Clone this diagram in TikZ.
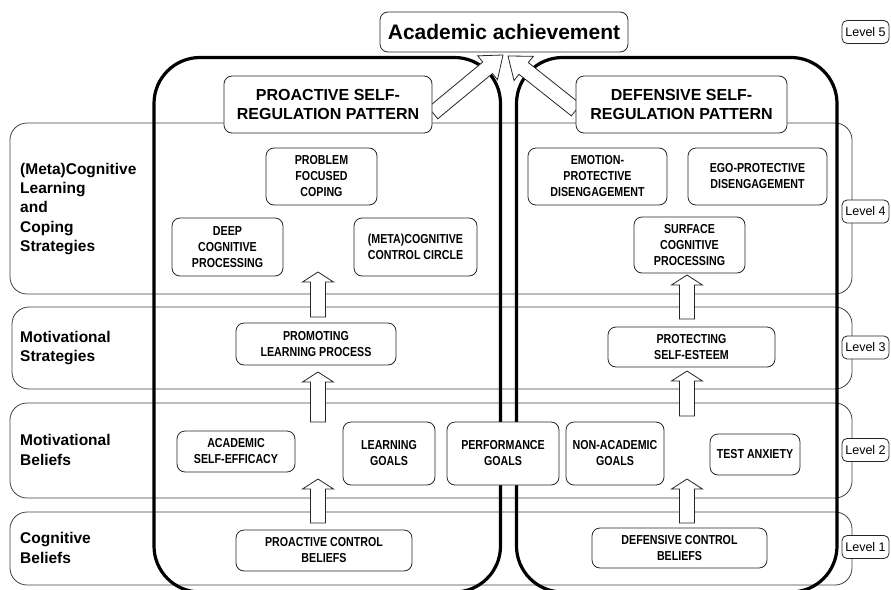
\documentclass[tikz,border=0pt]{standalone}
\usepackage{fontspec}
\setmainfont{Liberation Sans}
\newfontfamily\boxfont[FakeStretch=0.82]{Liberation Sans}
\usetikzlibrary{calc}

\tikzset{
  band/.style={draw=black!75, line width=0.8pt, rounded corners=17pt},
  frame/.style={draw, line width=3.2pt, rounded corners=46pt},
  wh/.style 2 args={minimum width=#1pt, minimum height=#2pt},
  itembox/.style={draw=black!85, fill=white, line width=0.8pt, rounded corners=8pt,
    align=center, inner sep=0pt, font=\boxfont\bfseries\fontsize{13}{16}\selectfont},
  headbox/.style={itembox, font=\bfseries\fontsize{16}{18.5}\selectfont},
  lvl/.style={draw=black!85, fill=white, line width=0.8pt, rounded corners=5pt,
    wh={47}{23}, inner sep=0pt, font=\fontsize{12.5}{15}\selectfont},
  rowname/.style={anchor=west, align=left, inner sep=0pt,
    font=\bfseries\fontsize{15.5}{19.2}\selectfont},
  hollow/.style={draw=black!85, fill=white, line width=0.8pt, line join=miter}
}

% #1 head length, #2 tail, #3 tip
\newcommand\hollowarrow[3][10pt]{%
  \coordinate (hb) at ($(#3)!#1!(#2)$);
  \draw[hollow] ($(#2)!7.5pt!90:(#3)$) -- ($(hb)!7.5pt!90:(#3)$) -- ($(hb)!15.5pt!90:(#3)$)
    -- (#3) -- ($(hb)!15.5pt!-90:(#3)$) -- ($(hb)!7.5pt!-90:(#3)$) -- ($(#2)!7.5pt!-90:(#3)$) -- cycle;}

\begin{document}
\begin{tikzpicture}[x=1pt,y=-1pt]
\useasboundingbox (0,0) rectangle (891,589);

\draw[band] (10,123) rectangle (852,294);
\draw[band] (12,307) rectangle (852,389);
\draw[band] (10,403) rectangle (852,498);
\draw[band] (10,512) rectangle (852,585);

\node[rowname] (r4) at (20,209) {(Meta)Cognitive\\Learning\\and\\Coping\\Strategies};
\node[rowname] (r3) at (20,348) {Motivational\\Strategies};
\node[rowname] (r2) at (20,450) {Motivational\\Beliefs};
\node[rowname] (r1) at (20,548) {Cognitive\\Beliefs};

\draw[frame] (154,57.5) rectangle (500.5,592);
\draw[frame] (516.5,57.5) rectangle (837,592);

\coordinate (pt) at (433,113);
\coordinate (ph) at (503,55);
\coordinate (dt) at (576,110);
\coordinate (dh) at (508,56);
\hollowarrow[20pt]{pt}{ph}
\hollowarrow[20pt]{dt}{dh}

\coordinate (l1) at (318,523);
\coordinate (l2) at (318,479);
\coordinate (l3) at (318,422);
\coordinate (l4) at (318,372);
\coordinate (l5) at (318,317);
\coordinate (l6) at (318,272);
\coordinate (r1a) at (687,523);
\coordinate (r1b) at (687,479);
\coordinate (r2a) at (687,416);
\coordinate (r2b) at (687,371);
\coordinate (r3a) at (687,319);
\coordinate (r3b) at (687,275);
\hollowarrow{l1}{l2}
\hollowarrow{l3}{l4}
\hollowarrow{l5}{l6}
\hollowarrow{r1a}{r1b}
\hollowarrow{r2a}{r2b}
\hollowarrow{r3a}{r3b}

\node[itembox, wh={248}{40}, font=\bfseries\fontsize{21}{25}\selectfont] (achv) at (504,32) {Academic achievement};
\node[headbox, wh={208}{57}] (pro) at (328,104.5) {PROACTIVE SELF-\\REGULATION PATTERN};
\node[headbox, wh={211}{57}] (def) at (681.5,104.5) {DEFENSIVE SELF-\\REGULATION PATTERN};

\node[itembox, wh={111}{57}] (pfc) at (321.5,176.5) {PROBLEM\\FOCUSED\\COPING};
\node[itembox, wh={111}{58}] (dcp) at (227.5,247) {DEEP\\COGNITIVE\\PROCESSING};
\node[itembox, wh={123}{58}] (mcc) at (415.5,247) {(META)COGNITIVE\\CONTROL CIRCLE};
\node[itembox, wh={139}{57}] (epd) at (597.5,176.5) {EMOTION-\\PROTECTIVE\\DISENGAGEMENT};
\node[itembox, wh={139}{57}] (egd) at (757.5,176.5) {EGO-PROTECTIVE\\DISENGAGEMENT};
\node[itembox, wh={111}{56}] (scp) at (689.5,245) {SURFACE\\COGNITIVE\\PROCESSING};

\node[itembox, wh={160}{42}] (plp) at (316,344) {PROMOTING\\LEARNING PROCESS};
\node[itembox, wh={167}{40}] (pse) at (691.5,347) {PROTECTING\\SELF-ESTEEM};

\node[itembox, wh={118}{41}] (ase) at (236,451.5) {ACADEMIC\\SELF-EFFICACY};
\node[itembox, wh={92}{63}] (lg) at (389,453.5) {LEARNING\\GOALS};
\node[itembox, wh={112}{63}] (pg) at (503,453.5) {PERFORMANCE\\GOALS};
\node[itembox, wh={98}{63}] (nag) at (615,453.5) {NON-ACADEMIC\\GOALS};
\node[itembox, wh={90}{41}] (ta) at (755,454.5) {TEST ANXIETY};

\node[itembox, wh={176}{41}] (pcb) at (324,550.5) {PROACTIVE CONTROL\\BELIEFS};
\node[itembox, wh={175}{40}] (dcb) at (679.5,548) {DEFENSIVE CONTROL\\BELIEFS};

\node[lvl] (v5) at (865.5,32) {Level 5};
\node[lvl] (v4) at (865.5,211.5) {Level 4};
\node[lvl] (v3) at (865.5,347.5) {Level 3};
\node[lvl] (v2) at (865.5,450) {Level 2};
\node[lvl] (v1) at (865.5,547) {Level 1};
\end{tikzpicture}
\end{document}
